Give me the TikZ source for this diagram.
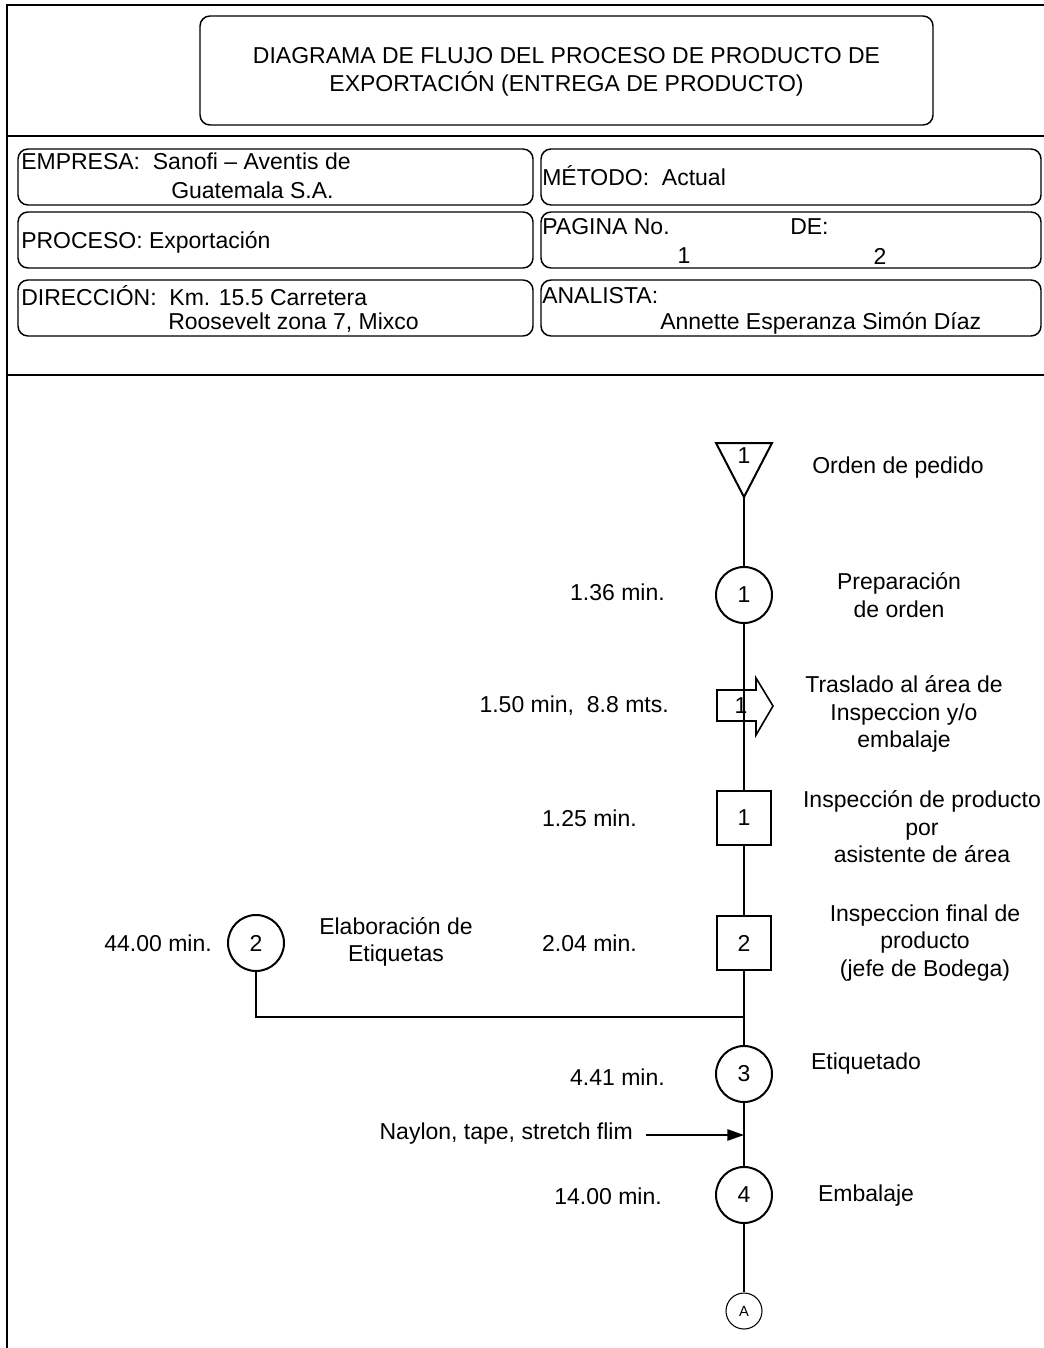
\documentclass[tikz,border=0pt]{standalone}
\usepackage{fontspec}
\setmainfont{Liberation Sans}
\usetikzlibrary{arrows.meta}
\begin{document}
\begin{tikzpicture}[x=0.75pt,y=-0.75pt,
  txt/.style={inner sep=0pt, font=\fontsize{17.25}{20.7}\selectfont, align=center},
  hdr/.style={draw, rounded corners=7.5pt, line width=1.1pt, inner sep=0pt},
  frameline/.style={line width=1.6pt},
  flow/.style={line width=1.5pt},
  opc/.style={circle, draw, line width=1.5pt, minimum size=42pt, inner sep=0pt, font=\fontsize{17.25}{20.7}\selectfont},
  insq/.style={rectangle, draw, line width=1.5pt, minimum size=41pt, inner sep=0pt, font=\fontsize{17.25}{20.7}\selectfont},
  offpage/.style={circle, draw, line width=0.8pt, minimum size=27pt, inner sep=0pt, font=\fontsize{11}{13}\selectfont}]
\useasboundingbox (0,0) rectangle (1044,1348);
\fill[white] (0,0) rectangle (1044,1348);

% outer frame and separators
\draw[frameline] (1044,5) -- (7,5) -- (7,1348);
\draw[frameline] (7,136) -- (1044,136);
\draw[frameline] (7,375) -- (1044,375);

% title
\node[hdr, minimum width=549.75pt, minimum height=81.75pt] (title) at (566.5,70.5) {};
\node[txt, font=\fontsize{17.25}{21}\selectfont] (titletxt) at (566.5,72)
  {DIAGRAMA DE FLUJO DEL PROCESO DE PRODUCTO DE\\EXPORTACIÓN (ENTREGA DE PRODUCTO)};

% header boxes
\node[hdr, minimum width=386.25pt, minimum height=42pt] (empresa) at (275.5,177) {};
\node[hdr, minimum width=375pt, minimum height=42pt] (metodo) at (791,177) {};
\node[hdr, minimum width=386.25pt, minimum height=42pt] (proceso) at (275.5,240) {};
\node[hdr, minimum width=375pt, minimum height=42pt] (pagina) at (791,240) {};
\node[hdr, minimum width=386.25pt, minimum height=42pt] (direccion) at (275.5,308) {};
\node[hdr, minimum width=375pt, minimum height=42pt] (analista) at (791,308) {};

\node[txt, anchor=west] (empA) at (21,161) {EMPRESA:\ \ Sanofi – Aventis de};
\node[txt, anchor=west] (empB) at (171,190) {Guatemala S.A.};
\node[txt, anchor=west] (metA) at (542,176) {MÉTODO:\ \ Actual};
\node[txt, anchor=west] (proA) at (21,242) {PROCESO: Exportación};
\node[txt, anchor=west] (pagA) at (542,227) {PAGINA No.};
\node[txt, anchor=west] (pagB) at (790,227) {DE:};
\node[txt] (pagC) at (684,256) {1};
\node[txt] (pagD) at (880,256) {2};
\node[txt, anchor=west] (dirA) at (21,296) {DIRECCIÓN:\ \ Km. 15.5 Carretera};
\node[txt, anchor=west] (dirB) at (168,323) {Roosevelt zona 7, Mixco};
\node[txt, anchor=west] (anaA) at (542,296) {ANALISTA:};
\node[txt, anchor=west] (anaB) at (660,323) {Annette Esperanza Simón Díaz};

% storage symbol
\draw[flow, line join=miter] (716,443) -- (772,443) -- (744,497) -- cycle;
\coordinate (t1) at (744,497);
\node[txt] (t1n) at (744,456) {1};
\node[txt] (t1l) at (898,468) {Orden de pedido};

% operations and inspections on the main line
\node[opc] (c1) at (744,595) {1};
\node[insq] (s1) at (744,818) {1};
\node[insq] (s2) at (744,943) {2};
\node[opc] (c3) at (744,1074) {3};
\node[opc] (c4) at (744,1195) {4};
\node[offpage] (pa) at (744,1311) {A};

% transport symbol
\coordinate (tr1) at (744,706);
\draw[line width=1.2pt, line join=miter] (717,690) -- (756,690) -- (756,678) -- (773,706)
  -- (756,735) -- (756,721) -- (717,721) -- cycle;
\node[txt] (tr1n) at (741,706) {1};

% side branch
\node[opc] (c2) at (256,943) {2};
\coordinate (mrg) at (744,1017);

% main line
\draw[flow] (t1) -- (c1);
\draw[flow] (c1) -- (s1);
\draw[flow] (s1) -- (s2);
\draw[flow] (s2) -- (c3);
\draw[flow] (c3) -- (c4);
\draw[flow] (c4) -- (pa);
\draw[flow] (c2.south) |- (mrg);

% material input
\node[txt, anchor=east] (nay) at (633,1134) {Naylon, tape, stretch flim};
\coordinate (nays) at (646,1135);
\coordinate (nayj) at (744,1135);
\draw[line width=1.2pt, -{Triangle[length=12.5pt,width=8.5pt]}] (nays) -- (nayj);

% times and descriptions
\node[txt, anchor=east] (c1t) at (665,592) {1.36 min.};
\node[txt] (c1d) at (899,595) {Preparación\\de orden};
\node[txt, anchor=east] (tr1t) at (669,706) {1.50 min,\ \ 8.8 mts.};
\node[txt] (tr1d) at (904,714) {Traslado al área de\\Inspeccion y/o\\embalaje};
\node[txt, anchor=east] (s1t) at (637,818) {1.25 min.};
\node[txt] (s1d) at (922,827) {Inspección de producto\\por\\asistente de área};
\node[txt, anchor=east] (s2t) at (637,943) {2.04 min.};
\node[txt] (s2d) at (925,943) {Inspeccion final de\\producto\\(jefe de Bodega)};
\node[txt, anchor=east] (c2t) at (212,943) {44.00 min.};
\node[txt] (c2d) at (396,942) {Elaboración de\\Etiquetas};
\node[txt, anchor=east] (c3t) at (665,1077) {4.41 min.};
\node[txt] (c3d) at (866,1064) {Etiquetado};
\node[txt, anchor=east] (c4t) at (662,1196) {14.00 min.};
\node[txt] (c4d) at (866,1196) {Embalaje};
\end{tikzpicture}
\end{document}
